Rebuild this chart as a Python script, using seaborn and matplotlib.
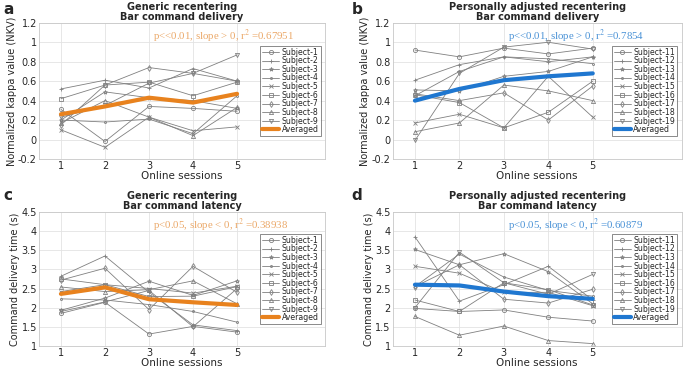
import matplotlib
matplotlib.use("Agg")
import matplotlib.pyplot as plt
import pandas as pd
import seaborn as sns

sessions = [1, 2, 3, 4, 5]

# panel a: generic recentering, NKV
generic_names = ["Subject-%d" % i for i in range(1, 10)]
generic_kappa = [
    [0.31, -0.02, 0.34, 0.32, 0.29],
    [0.52, 0.61, 0.53, 0.73, 0.60],
    [0.20, 0.49, 0.43, 0.40, 0.32],
    [0.20, 0.18, 0.21, 0.06, 0.45],
    [0.10, -0.08, 0.23, 0.09, 0.13],
    [0.42, 0.56, 0.59, 0.45, 0.59],
    [0.15, 0.56, 0.74, 0.68, 0.60],
    [0.17, 0.40, 0.23, 0.04, 0.33],
    [0.23, 0.35, 0.58, 0.68, 0.87],
]
generic_kappa_avg = [0.26, 0.34, 0.43, 0.38, 0.47]

# panel b: personally adjusted recentering, NKV
personal_names = ["Subject-%d" % i for i in range(11, 20)]
personal_kappa = [
    [0.92, 0.85, 0.94, 0.88, 0.94],
    [0.61, 0.77, 0.85, 0.80, 0.85],
    [0.51, 0.50, 0.65, 0.70, 0.85],
    [0.45, 0.70, 0.85, 0.83, 0.78],
    [0.17, 0.26, 0.12, 0.65, 0.23],
    [0.46, 0.38, 0.12, 0.28, 0.60],
    [0.47, 0.40, 0.48, 0.20, 0.55],
    [0.08, 0.17, 0.56, 0.50, 0.40],
    [-0.01, 0.68, 0.95, 1.00, 0.93],
]
personal_kappa_avg = [0.40, 0.52, 0.61, 0.65, 0.68]

# panel c: generic recentering, latency
generic_time = [
    [1.85, 2.14, 1.31, 1.51, 1.36],
    [2.82, 3.35, 2.40, 1.55, 1.40],
    [1.93, 2.25, 2.69, 2.32, 2.70],
    [2.23, 2.20, 2.08, 1.90, 1.62],
    [2.42, 2.60, 2.50, 2.38, 2.56],
    [2.75, 2.60, 2.29, 2.30, 2.55],
    [2.72, 3.03, 1.95, 3.08, 2.40],
    [2.54, 2.42, 2.47, 2.70, 2.10],
    [1.90, 2.15, 2.45, 1.50, 2.50],
]
generic_time_avg = [2.36, 2.53, 2.22, 2.14, 2.07]

# panel d: personally adjusted recentering, latency
personal_time = [
    [1.98, 1.90, 1.94, 1.75, 1.65],
    [3.85, 2.17, 2.60, 3.08, 2.20],
    [3.52, 3.12, 3.41, 2.94, 2.10],
    [2.55, 3.40, 2.80, 2.45, 2.30],
    [3.08, 2.90, 2.40, 2.40, 2.05],
    [2.20, 1.90, 2.65, 2.47, 2.07],
    [2.55, 3.12, 2.22, 2.12, 2.48],
    [1.77, 1.28, 1.52, 1.14, 1.06],
    [2.00, 3.45, 2.65, 2.35, 2.87],
]
personal_time_avg = [2.60, 2.58, 2.42, 2.30, 2.23]

markers = ["o", "+", "*", ".", "x", "s", "d", "^", "v"]
orange = "#e8821e"
blue = "#1f77d0"

sns.set_style("whitegrid")
plt.rcParams["mathtext.fontset"] = "stix"
plt.rcParams["font.family"] = ["DejaVu Sans"]


def draw_panel(ax, names, series, avg, avg_color, text_color, title, note,
               ylabel, ylim, yticks):
    for name, vals, m in zip(names, series, markers):
        df = pd.DataFrame({"session": sessions, "value": vals})
        sns.lineplot(data=df, x="session", y="value", ax=ax, color="#808080",
                     linewidth=0.6, marker=m, markersize=3,
                     markerfacecolor="none", markeredgecolor="#808080",
                     markeredgewidth=0.6, label=name)
    df = pd.DataFrame({"session": sessions, "value": avg})
    sns.lineplot(data=df, x="session", y="value", ax=ax, color=avg_color,
                 linewidth=3, label="Averaged")
    ax.set_xlim(0.5, 7)
    ax.set_ylim(*ylim)
    ax.set_xticks(sessions)
    ax.set_yticks(yticks)
    ax.set_yticklabels([("%g" % t) for t in yticks])
    ax.tick_params(labelsize=7, length=0, pad=1.5)
    ax.grid(True, color="#e3e3e3", linewidth=0.6)
    for s in ax.spines.values():
        s.set_color("#c8c8c8")
        s.set_linewidth(0.6)
    ax.set_xlabel("Online sessions", fontsize=7.5, labelpad=0)
    ax.set_ylabel(ylabel, fontsize=7, labelpad=1)
    ax.set_title(title, fontsize=7, fontweight="bold", pad=2, linespacing=1.0)
    ax.text(3.1, ylim[0] + (ylim[1] - ylim[0]) * 0.9, note, color=text_color,
            fontsize=7.8, family="Liberation Serif", va="center")
    leg = ax.legend(loc="center right", bbox_to_anchor=(0.99, 0.5),
                    fontsize=5.6, frameon=True, fancybox=False,
                    borderpad=0.25, labelspacing=-0.05, handlelength=2.2,
                    handletextpad=0.3, borderaxespad=0.2)
    leg.get_frame().set_edgecolor("#555555")
    leg.get_frame().set_linewidth(0.6)


fig = plt.figure(figsize=(6.83, 3.68), dpi=100)
ax_a = fig.add_axes([0.057, 0.568, 0.419, 0.37])
ax_b = fig.add_axes([0.575, 0.568, 0.423, 0.37])
ax_c = fig.add_axes([0.057, 0.06, 0.419, 0.364])
ax_d = fig.add_axes([0.575, 0.06, 0.423, 0.364])

kappa_ticks = [-0.2, 0, 0.2, 0.4, 0.6, 0.8, 1, 1.2]
time_ticks = [1, 1.5, 2, 2.5, 3, 3.5, 4, 4.5]

draw_panel(ax_a, generic_names, generic_kappa, generic_kappa_avg, orange,
           "#eba868", "Generic recentering\nBar command delivery",
           "p<<0.01, slope > 0, r$^2$ =0.67951",
           "Normalized kappa value (NKV)", (-0.2, 1.2), kappa_ticks)
draw_panel(ax_b, personal_names, personal_kappa, personal_kappa_avg, blue,
           "#4a92d6", "Personally adjusted recentering\nBar command delivery",
           "p<<0.01, slope > 0, r$^2$ =0.7854",
           "Normalized kappa value (NKV)", (-0.2, 1.2), kappa_ticks)
draw_panel(ax_c, generic_names, generic_time, generic_time_avg, orange,
           "#eba868", "Generic recentering\nBar command latency",
           "p<0.05, slope < 0, r$^2$ =0.38938",
           "Command delivery time (s)", (1, 4.5), time_ticks)
draw_panel(ax_d, personal_names, personal_time, personal_time_avg, blue,
           "#4a92d6", "Personally adjusted recentering\nBar command latency",
           "p<0.05, slope < 0, r$^2$ =0.60879",
           "Command delivery time (s)", (1, 4.5), time_ticks)

for letter, x, y in [("a", 0.005, 0.995), ("b", 0.515, 0.995),
                     ("c", 0.005, 0.49), ("d", 0.515, 0.49)]:
    fig.text(x, y, letter, fontsize=11, fontweight="bold", va="top", ha="left")

fig.savefig("out.png", dpi=100)
